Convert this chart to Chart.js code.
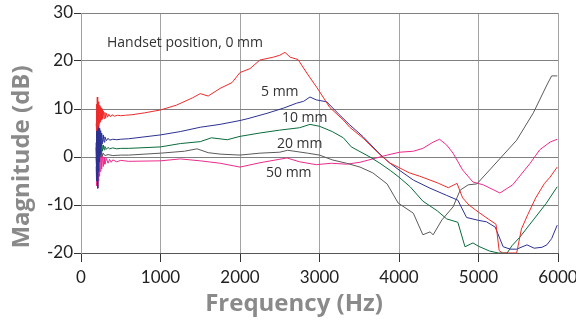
<!DOCTYPE html>
<html><head><meta charset="utf-8">
<script src="https://cdn.jsdelivr.net/npm/chart.js@4"></script>
<style>html,body{margin:0;padding:0;background:#fff;overflow:hidden}canvas{display:block}</style>
</head><body>
<canvas id="c" width="576" height="324"></canvas>
<script>
// ---- data ----
const xTickValues = [0, 1000, 2000, 3000, 4000, 5000, 6000];
const yTickValues = [-20, -10, 0, 10, 20, 30];
const seriesNames = ['0 mm', '5 mm', '10 mm', '20 mm', '50 mm'];

const freq0mm = [190,195,200,205,210,215,220,225,230,235,240,245,250,255,260,265,270,280,290,300,310,320,335,350,370,390,420,460,500,560,640,800,1000,1200,1400,1500,1600,1750,1900,2000,2125,2250,2420,2500,2566,2630,2730,2840,2970,3130,3300,3380,3550,3760,3880,4000,4130,4260,4390,4500,4620,4730,4800,4880,5000,5130,5220,5260,5300,5480,5540,5620,5720,5830,5900,5990];
const mag0mm  = [7,11,5.5,12.5,6,11.5,6.5,11,7,10.8,7.3,10.5,7.6,10.2,7.8,10,7.9,9.6,8,9.3,8.1,9.1,8.3,8.9,8.4,8.8,8.5,8.7,8.6,8.7,8.8,9.2,9.8,10.8,12.3,13.2,12.7,14.3,15.5,17.6,18.4,20.2,20.8,21.2,21.8,20.8,20.3,17.5,14.4,10.3,7.7,6.2,3.9,0.5,-1.2,-2.2,-3.3,-4.0,-4.8,-5.5,-6.4,-5.5,-8.5,-10,-11.5,-13,-14,-19.5,-20,-20,-15,-12,-8.5,-5.5,-4.2,-2.1];

const freq5mm = [190,195,200,205,210,215,220,225,230,235,240,245,250,260,270,280,290,300,320,340,360,400,450,500,600,1000,1250,1500,1750,2000,2100,2340,2550,2710,2800,2880,2960,3090,3250,3380,3550,3760,3880,4000,4180,4390,4600,4740,4850,5000,5100,5210,5310,5400,5480,5610,5700,5800,5860,5920,5990];
const mag5mm  = [3,9,-5,10,-6.5,8,-3,7,-1,6,0.5,5.5,2,5,2.8,4.6,3.1,4.2,3.4,3.9,3.5,3.7,3.6,3.7,3.8,4.6,5.3,6.2,6.8,7.6,8.0,9.1,10.2,11.2,11.6,12.5,11.9,11.5,8.8,6.7,4.2,0.6,-1.2,-2.7,-4.8,-6.5,-8,-9,-12.6,-13.2,-13.5,-14.6,-18.7,-19.2,-19.2,-18.3,-19,-18.8,-18.3,-17,-14.2];

const freq10mm = [190,195,200,205,210,215,220,225,230,240,250,260,270,280,290,300,320,340,360,400,450,500,600,1000,1250,1500,1640,1840,2000,2250,2500,2750,2880,3000,3160,3300,3400,3635,3760,3890,4000,4140,4300,4480,4600,4740,4830,4930,5000,5140,5250,5360,5420,5520,5690,5850,5990];
const mag10mm  = [2,8,-2,9,-1,6,0,5,0.5,4,1,3,1.2,2.5,1.5,2.2,1.6,2,1.7,1.9,1.7,1.8,1.8,2.1,2.8,3.2,4.0,3.6,4.3,5.0,5.6,6.1,6.8,6.4,5.3,4.0,2.1,0,-1.3,-2.8,-4.2,-6.2,-9.2,-11.2,-12.9,-13.6,-18.7,-17.9,-18.6,-19.6,-20,-20,-18.5,-16.7,-13.1,-9.7,-6.2];

const freq20mm = [190,195,200,205,210,215,220,225,230,240,250,260,270,280,300,340,400,500,600,1000,1300,1460,1600,1750,2000,2250,2500,2600,2850,3000,3160,3340,3510,3670,3850,3990,4180,4300,4390,4430,4540,4680,4770,4870,4980,5140,5310,5480,5690,5860,5920,5990];
const mag20mm  = [0,4,-3,5,-2,3,-1,2,-0.5,1.5,0,1,0.2,0.8,0.3,0.5,0.3,0.4,0.4,0.8,1.2,1.7,0.9,0.6,0.4,0.8,1.0,1.4,0.8,0.4,-0.6,-1.3,-2.1,-3.3,-5.6,-9.6,-11.7,-16.2,-15.6,-16.2,-13.1,-10.4,-6.9,-5.8,-5.6,-2.7,0.4,3.5,9.2,15,16.9,16.9];

const freq50mm = [190,195,200,205,210,215,220,225,230,235,240,250,260,270,280,290,300,320,340,360,380,400,450,500,600,1000,1250,1500,1750,2000,2250,2590,2750,2960,3150,3340,3510,3670,3850,4010,4180,4300,4430,4510,4600,4680,4800,4930,5060,5270,5430,5650,5770,5900,5990];
const mag50mm  = [-2,4,-6,5,-6.5,3.5,-5,3,-4,2,-3,1,-2.5,0.5,-2,0,-1.5,-0.3,-1.3,-0.5,-1.1,-0.6,-1.0,-0.7,-0.9,-0.8,-0.4,-0.8,-1.3,-2.1,-1.2,-0.2,-1.0,-1.6,-1.3,-1.5,-1.1,-0.4,0.4,1.0,1.2,1.8,3.1,3.7,2.5,0.8,-2.7,-5.2,-5.8,-7.5,-5.8,-1.3,1.5,3.1,3.7];

const noteTexts = ['Handset position, 0 mm', '5 mm', '10 mm', '20 mm', '50 mm'];
const xTitleText = 'Frequency (Hz)';
const yTitleText = 'Magnitude (dB)';

// ---- chart construction ----
const pts = (f, m) => f.map((v, i) => ({x: v, y: m[i]}));
const freqs = [freq0mm, freq5mm, freq10mm, freq20mm, freq50mm];
const mags = [mag0mm, mag5mm, mag10mm, mag20mm, mag50mm];
const colors = ['#ee2b2b', '#2c3192', '#0a6b3c', '#5a5a5a', '#ec2a8d'];

const noteAnchors = [
  {f: 327, db: 23.75}, {f: 2264, db: 13.5}, {f: 2528, db: 8.1}, {f: 2465, db: 2.7}, {f: 2327, db: -3.3}
];

const textPlugin = {
  id: 'texts',
  afterDraw(chart) {
    const {ctx} = chart;
    const xs = chart.scales.x, ys = chart.scales.y;
    ctx.save();
    ctx.fillStyle = '#333';
    ctx.font = '14px "Open Sans", sans-serif';
    ctx.textAlign = 'left';
    ctx.textBaseline = 'middle';
    noteTexts.forEach((t, i) => {
      ctx.fillText(t, xs.getPixelForValue(noteAnchors[i].f), ys.getPixelForValue(noteAnchors[i].db));
    });
    ctx.fillStyle = '#8a8a8a';
    ctx.font = 'bold 24px "Open Sans", sans-serif';
    ctx.textAlign = 'center';
    ctx.fillText(xTitleText, 294, 304);
    ctx.translate(22, 157);
    ctx.rotate(-Math.PI / 2);
    ctx.fillText(yTitleText, 0, 0);
    ctx.restore();
  }
};

const tickFont = {family: 'Lato', size: 17};

new Chart(document.getElementById('c'), {
  type: 'scatter',
  data: {
    datasets: seriesNames.map((n, i) => ({
      label: n,
      data: pts(freqs[i], mags[i]),
      showLine: true,
      borderColor: colors[i],
      backgroundColor: colors[i],
      borderWidth: 1,
      pointRadius: 0,
      tension: 0
    }))
  },
  options: {
    responsive: false,
    animation: false,
    devicePixelRatio: 1,
    layout: {padding: {top: 13, right: 18, left: 0, bottom: 0}},
    plugins: {legend: {display: false}, tooltip: {enabled: false}},
    scales: {
      x: {
        type: 'linear', min: 0, max: 6000,
        afterBuildTicks: s => { s.ticks = xTickValues.map(v => ({value: v})); },
        ticks: {color: '#222', font: tickFont, padding: 5, maxRotation: 0, autoSkip: false, callback: v => String(v)},
        grid: {color: '#a3a3a3', lineWidth: 1, tickColor: '#333', tickLength: 9},
        border: {color: '#555', width: 1},
        afterFit: s => { s.height = 71; s.paddingLeft = 0; s.paddingRight = 0; }
      },
      y: {
        type: 'linear', min: -20, max: 30,
        afterBuildTicks: s => { s.ticks = yTickValues.map(v => ({value: v})); },
        ticks: {color: '#222', font: tickFont, padding: 1, callback: v => String(v)},
        grid: {color: '#808080', lineWidth: 1, tickColor: '#333', tickLength: 7},
        border: {color: '#a0a0a0', width: 1},
        afterFit: s => { s.width = 81; s.paddingTop = 0; s.paddingBottom = 0; }
      }
    }
  },
  plugins: [textPlugin]
});
</script>
</body></html>
